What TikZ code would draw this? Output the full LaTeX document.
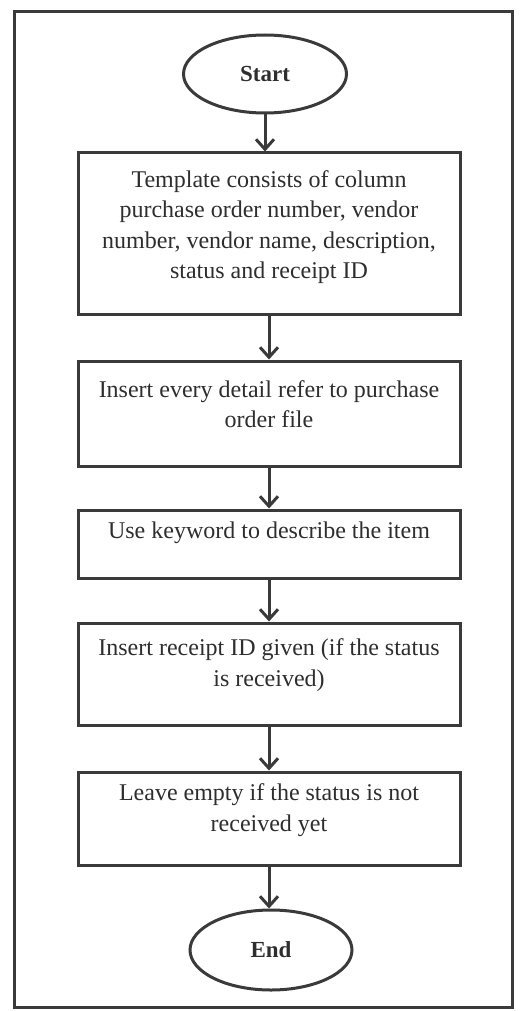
\documentclass[tikz,border=0pt]{standalone}
\usepackage{fontspec}
\setmainfont{Liberation Serif}
\usetikzlibrary{arrows.meta,shapes.geometric}
\definecolor{linec}{HTML}{3A3A3A}
\definecolor{textc}{HTML}{2E2E2E}
\tikzset{
  frame/.style={draw=linec, line width=3pt},
  stepbox/.style={draw=linec, line width=3pt, rectangle, minimum width=382pt, inner sep=0pt},
  term/.style={draw=linec, line width=3pt, ellipse, inner sep=0pt, text=textc, font=\fontsize{23}{28}\selectfont\bfseries},
  txt/.style={text=textc, align=center, inner sep=0pt, font=\fontsize{24}{30.5}\selectfont},
  flow/.style={draw=linec, line width=3pt, -{Straight Barb[length=10pt,width=18pt]}},
}
\begin{document}
\begin{tikzpicture}[x=1pt,y=-1pt]
\useasboundingbox (0,0) rectangle (522,1011);
\draw[frame] (14,12) rectangle (512,1007);

\node[term, minimum width=163pt, minimum height=78pt] (start) at (265,74) {Start};

\node[stepbox, minimum height=161pt] (b1) at (269,233.5) {};
\node[txt, yshift=6.5pt] (t1) at (b1.center) {Template consists of column\\purchase order number, vendor\\number, vendor name, description,\\status and receipt ID};

\node[stepbox, minimum height=105pt] (b2) at (269,413.5) {};
\node[txt, yshift=9.5pt] (t2) at (b2.center) {Insert every detail refer to purchase\\order file};

\node[stepbox, minimum height=68pt] (b3) at (269,544) {};
\node[txt, yshift=11pt] (t3) at (b3.center) {Use keyword to describe the item};

\node[stepbox, minimum height=102pt] (b4) at (269,674) {};
\node[txt, yshift=9pt] (t4) at (b4.center) {Insert receipt ID given (if the status\\is received)};

\node[stepbox, minimum height=93pt] (b5) at (269,818.5) {};
\node[txt, yshift=8.5pt] (t5) at (b5.center) {Leave empty if the status is not\\received yet};

\node[term, minimum width=162pt, minimum height=80pt] (end) at (271,950) {End};

\draw[flow] (start.south) -- (start.south |- b1.north);
\draw[flow] (b1.south) -- (b2.north);
\draw[flow] (b2.south) -- (b3.north);
\draw[flow] (b3.south) -- (b4.north);
\draw[flow] (b4.south) -- (b5.north);
\draw[flow] (b5.south) -- (b5.south |- end.north);
\end{tikzpicture}
\end{document}
